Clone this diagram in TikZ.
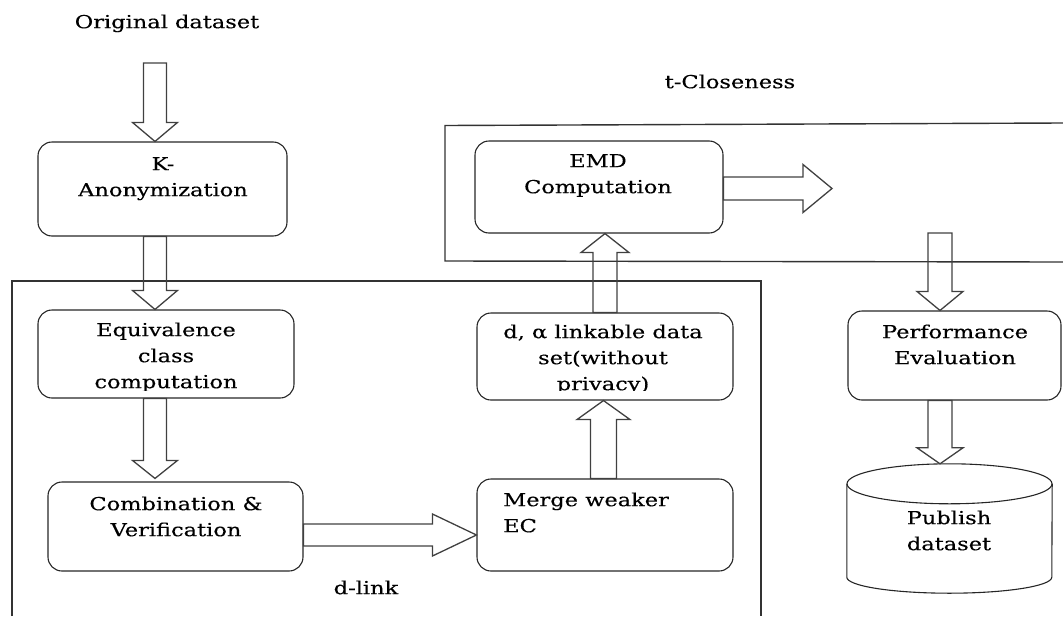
\documentclass[tikz,border=0pt]{standalone}
\usepackage{fontspec}
\setmainfont{DejaVu Serif}[FakeStretch=1.25, FakeBold=0.3]
\usetikzlibrary{calc}
% #1 start, #2 tip, #3 shaft half width, #4 head half width, #5 head length
\newcommand\fatarrow[5]{%
  \coordinate (fhb) at ($(#2)!#5!(#1)$);
  \draw[fat] ($(#1)!#3!90:(#2)$) -- ($(fhb)!#3!90:(#2)$) -- ($(fhb)!#4!90:(#2)$) -- (#2)
    -- ($(fhb)!#4!-90:(#2)$) -- ($(fhb)!#3!-90:(#2)$) -- ($(#1)!#3!-90:(#2)$) -- cycle;}
\begin{document}
\begin{tikzpicture}[x=1pt,y=-1pt,
  box/.style={draw=black!85, line width=1.1pt, rounded corners=14pt, inner sep=0pt},
  lbl/.style={font=\fontsize{18}{26}\selectfont, align=center, inner sep=0pt, anchor=north},
  frame/.style={draw=black!80, line width=1.4pt},
  fat/.style={draw=black!75, line width=1.3pt, line join=miter},
  cyl/.style={draw=black!85, line width=1.1pt}]
\useasboundingbox (0,0) rectangle (1063,616);
% containers
\draw[frame] (1063,123) -- (445,125.5) -- (445,261) -- (1063,262);
\draw[frame] (12,616) -- (12,281) -- (761,281) -- (761,616);
% boxes
\node[box, minimum width=249pt, minimum height=94pt] (k) at (162.5,189) {};
\node[box, minimum width=256pt, minimum height=88pt] (eq) at (166,354) {};
\node[box, minimum width=255pt, minimum height=89pt] (comb) at (175.5,526.5) {};
\node[box, minimum width=256pt, minimum height=92pt] (merge) at (605,525) {};
\node[box, minimum width=256pt, minimum height=87pt] (dal) at (605,356.5) {};
\node[box, minimum width=248pt, minimum height=92pt] (emd) at (599,187) {};
\node[box, minimum width=213pt, minimum height=89pt] (perf) at (954.5,355.5) {};
\node[inner sep=0pt, minimum width=205pt, minimum height=129pt] (pub) at (949.5,528.5) {};
\draw[cyl] ($(pub.north)+(0,20)$) ellipse [x radius=102.5, y radius=20];
\draw[cyl] ($(pub.north west)+(0,20)$) -- ($(pub.south west)+(0,-16)$)
  arc[start angle=180, end angle=0, x radius=102.5, y radius=16] -- ($(pub.north east)+(0,20)$);
% texts
\node[lbl] (torig) at (167,9.8) {\strut Original dataset};
\node[lbl] (tclose) at (730,69.8) {\strut t-Closeness};
\node[lbl] (tk) at (163,151.8) {\strut K-\\Anonymization};
\node[lbl] (temd) at (598,148.8) {\strut EMD\\Computation};
\begin{scope}
  \clip (38,310) rectangle (294,390);
  \node[lbl] (teq) at (166,317.8) {\strut Equivalence\\class\\computation};
\end{scope}
\begin{scope}
  \clip (477,313) rectangle (733,390);
  \node[lbl] (tdal) at (603,319.8) {\strut d, α linkable data\\set(without\\privacy)};
\end{scope}
\node[lbl] (tcomb) at (176,491.8) {\strut Combination \&\\Verification};
\node[lbl, anchor=north west, align=left] (tmerge) at (503,487.8) {\strut Merge weaker\\EC};
\node[lbl] (tdlink) at (366,575.8) {\strut d-link};
\node[lbl] (tperf) at (955,319.8) {\strut Performance\\Evaluation};
\node[lbl] (tpub) at (949,505.8) {\strut Publish\\dataset};
% arrow coordinates
\coordinate (colA) at (155,0);
\coordinate (src) at (155,63);
\coordinate (a1t) at (k.north -| colA);
\coordinate (a2s) at (k.south -| colA);
\coordinate (a2t) at (eq.north -| colA);
\coordinate (a3s) at (eq.south -| colA);
\coordinate (a3t) at ($(comb.north -| colA)+(0,-3)$);
\coordinate (rowA) at (0,535);
\coordinate (a4s) at (comb.east |- rowA);
\coordinate (a4t) at (merge.west |- rowA);
\coordinate (colB) at (603.5,0);
\coordinate (a5s) at (merge.north -| colB);
\coordinate (a5t) at (dal.south -| colB);
\coordinate (colC) at (605,0);
\coordinate (a6s) at (dal.north -| colC);
\coordinate (a6t) at (emd.south -| colC);
\coordinate (rowB) at (0,188.5);
\coordinate (a7s) at (emd.east |- rowB);
\coordinate (emdout) at (832,188.5);
\coordinate (colD) at (940,0);
\coordinate (perfin) at (940,233);
\coordinate (a8t) at (perf.north -| colD);
\coordinate (a9s) at (perf.south -| colD);
\coordinate (a9t) at (pub.north -| colD);
% arrows
\fatarrow{src}{a1t}{11.5pt}{22.5pt}{19pt}
\fatarrow{a2s}{a2t}{11.5pt}{22.5pt}{19pt}
\fatarrow{a3s}{a3t}{11.5pt}{22.5pt}{18pt}
\fatarrow{a4s}{a4t}{11pt}{21pt}{44pt}
\fatarrow{a5s}{a5t}{13pt}{26.5pt}{19pt}
\fatarrow{a6s}{a6t}{12pt}{24pt}{19pt}
\fatarrow{a7s}{emdout}{11.5pt}{24pt}{29pt}
\fatarrow{perfin}{a8t}{12pt}{23pt}{19pt}
\fatarrow{a9s}{a9t}{12pt}{23pt}{16pt}
\end{tikzpicture}
\end{document}
